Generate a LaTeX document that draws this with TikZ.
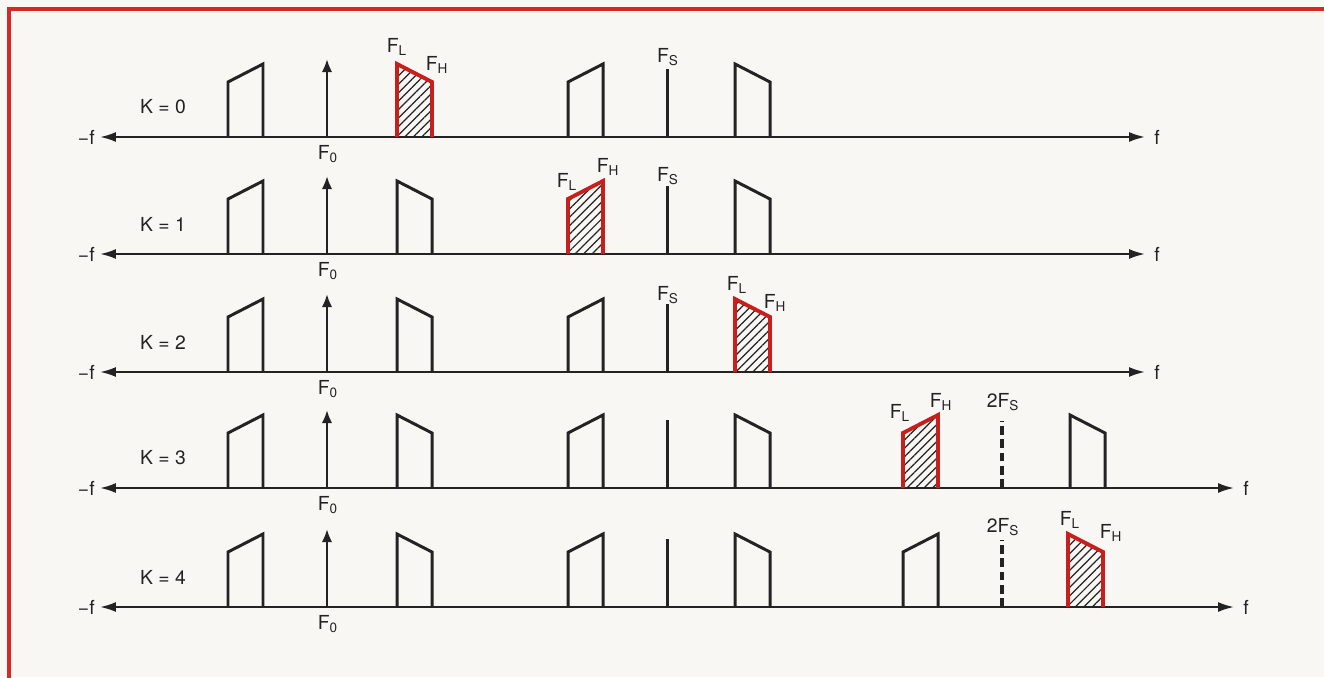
\documentclass[tikz,border=0pt]{standalone}
\usepackage{fontspec}
\setmainfont{TeX Gyre Heros}
\usetikzlibrary{arrows.meta,patterns.meta}
\definecolor{frameRed}{RGB}{214,40,36}
\definecolor{bandRed}{RGB}{200,30,28}
\definecolor{ink}{RGB}{35,35,35}
\definecolor{paper}{RGB}{248,247,244}
% one side band of the spectrum, left edge #2, on the axis at height #3
\newcommand{\bandup}[3][band]{\path[#1] (#2,#3) -- ++(0,55) -- ++(35,18) -- ++(0,-73);}
\newcommand{\banddn}[3][band]{\path[#1] (#2,#3) -- ++(0,73) -- ++(35,-18) -- ++(0,-55);}

\begin{document}
\begin{tikzpicture}[x=0.02cm, y=0.02cm,
    axis/.style={draw=ink, line width=1.1pt,
      {Latex[length=9pt,width=5.6pt]}-{Latex[length=9pt,width=5.6pt]}},
    band/.style={draw=ink, line width=1.7pt},
    hatched/.style={draw=bandRed, line width=2.2pt, pattern color=ink,
      pattern={Lines[angle=45,distance=3.4pt,line width=0.7pt]}},
    impulse/.style={draw=ink, line width=1.4pt, -{Latex[length=7.5pt,width=6pt]}},
    imageline/.style={draw=ink, line width=2.1pt, dash pattern=on 5pt off 2.6pt},
    lbl/.style={text=ink, font=\fontsize{11}{13}\selectfont, inner sep=0pt}]
    % page and red frame
    \fill[paper] (0,0) rectangle (1324,677);
    \useasboundingbox (0,0) rectangle (1324,677);
    \draw[frameRed, line width=1.8pt] (1330,668) -- (9,668) -- (9,-5);
    % what every row has: axis, K, F0 impulse, left band, Fs line
    \foreach \k/\y/\xe in {0/540/1145,1/423/1145,2/305/1145,3/189/1234,4/70/1234} {
      \coordinate (ax\k-l) at (100,\y);
      \coordinate (ax\k-r) at (\xe,\y);
      \draw[axis] (ax\k-l) -- (ax\k-r);
      \node[lbl, anchor=east] (mf\k) at (95,\y) {−f};
      \node[lbl, anchor=west] (f\k) at (\xe+9,\y) {f};
      \node[lbl] (k\k) at (163,\y+30) {K = \k};
      \draw[impulse] (327,\y) -- ++(0,78);
      \node[lbl] (fo\k) at (328,\y-17) {F\textsubscript{0}};
      \bandup{228}{\y}
      \draw[band] (667,\y) -- ++(0,68);
    }
    % K = 0
    \banddn[hatched]{397}{540}
    \bandup{568}{540}
    \banddn{735}{540}
    \node[lbl] (fl0) at (397,630) {F\textsubscript{L}};
    \node[lbl] (fh0) at (437,612) {F\textsubscript{H}};
    \node[lbl] (fs0) at (668,620) {F\textsubscript{S}};
    % K = 1
    \banddn{397}{423}
    \bandup[hatched]{568}{423}
    \banddn{735}{423}
    \node[lbl] (fl1) at (567,495) {F\textsubscript{L}};
    \node[lbl] (fh1) at (608,510) {F\textsubscript{H}};
    \node[lbl] (fs1) at (668,501) {F\textsubscript{S}};
    % K = 2
    \banddn{397}{305}
    \bandup{568}{305}
    \banddn[hatched]{735}{305}
    \node[lbl] (fs2) at (668,382) {F\textsubscript{S}};
    \node[lbl] (fl2) at (737,392) {F\textsubscript{L}};
    \node[lbl] (fh2) at (775,374) {F\textsubscript{H}};
    % K = 3
    \banddn{397}{189}
    \bandup{568}{189}
    \banddn{735}{189}
    \bandup[hatched]{903}{189}
    \draw[imageline] (1002,189) -- ++(0,67);
    \banddn{1070}{189}
    \node[lbl] (fl3) at (900,264) {F\textsubscript{L}};
    \node[lbl] (fh3) at (941,275) {F\textsubscript{H}};
    \node[lbl] (fs3) at (1003,275) {2F\textsubscript{S}};
    % K = 4
    \banddn{397}{70}
    \bandup{568}{70}
    \banddn{735}{70}
    \bandup{903}{70}
    \draw[imageline] (1002,70) -- ++(0,67);
    \banddn[hatched]{1068}{70}
    \node[lbl] (fs4) at (1003,150) {2F\textsubscript{S}};
    \node[lbl] (fl4) at (1070,157) {F\textsubscript{L}};
    \node[lbl] (fh4) at (1111,144) {F\textsubscript{H}};
\end{tikzpicture}
\end{document}
